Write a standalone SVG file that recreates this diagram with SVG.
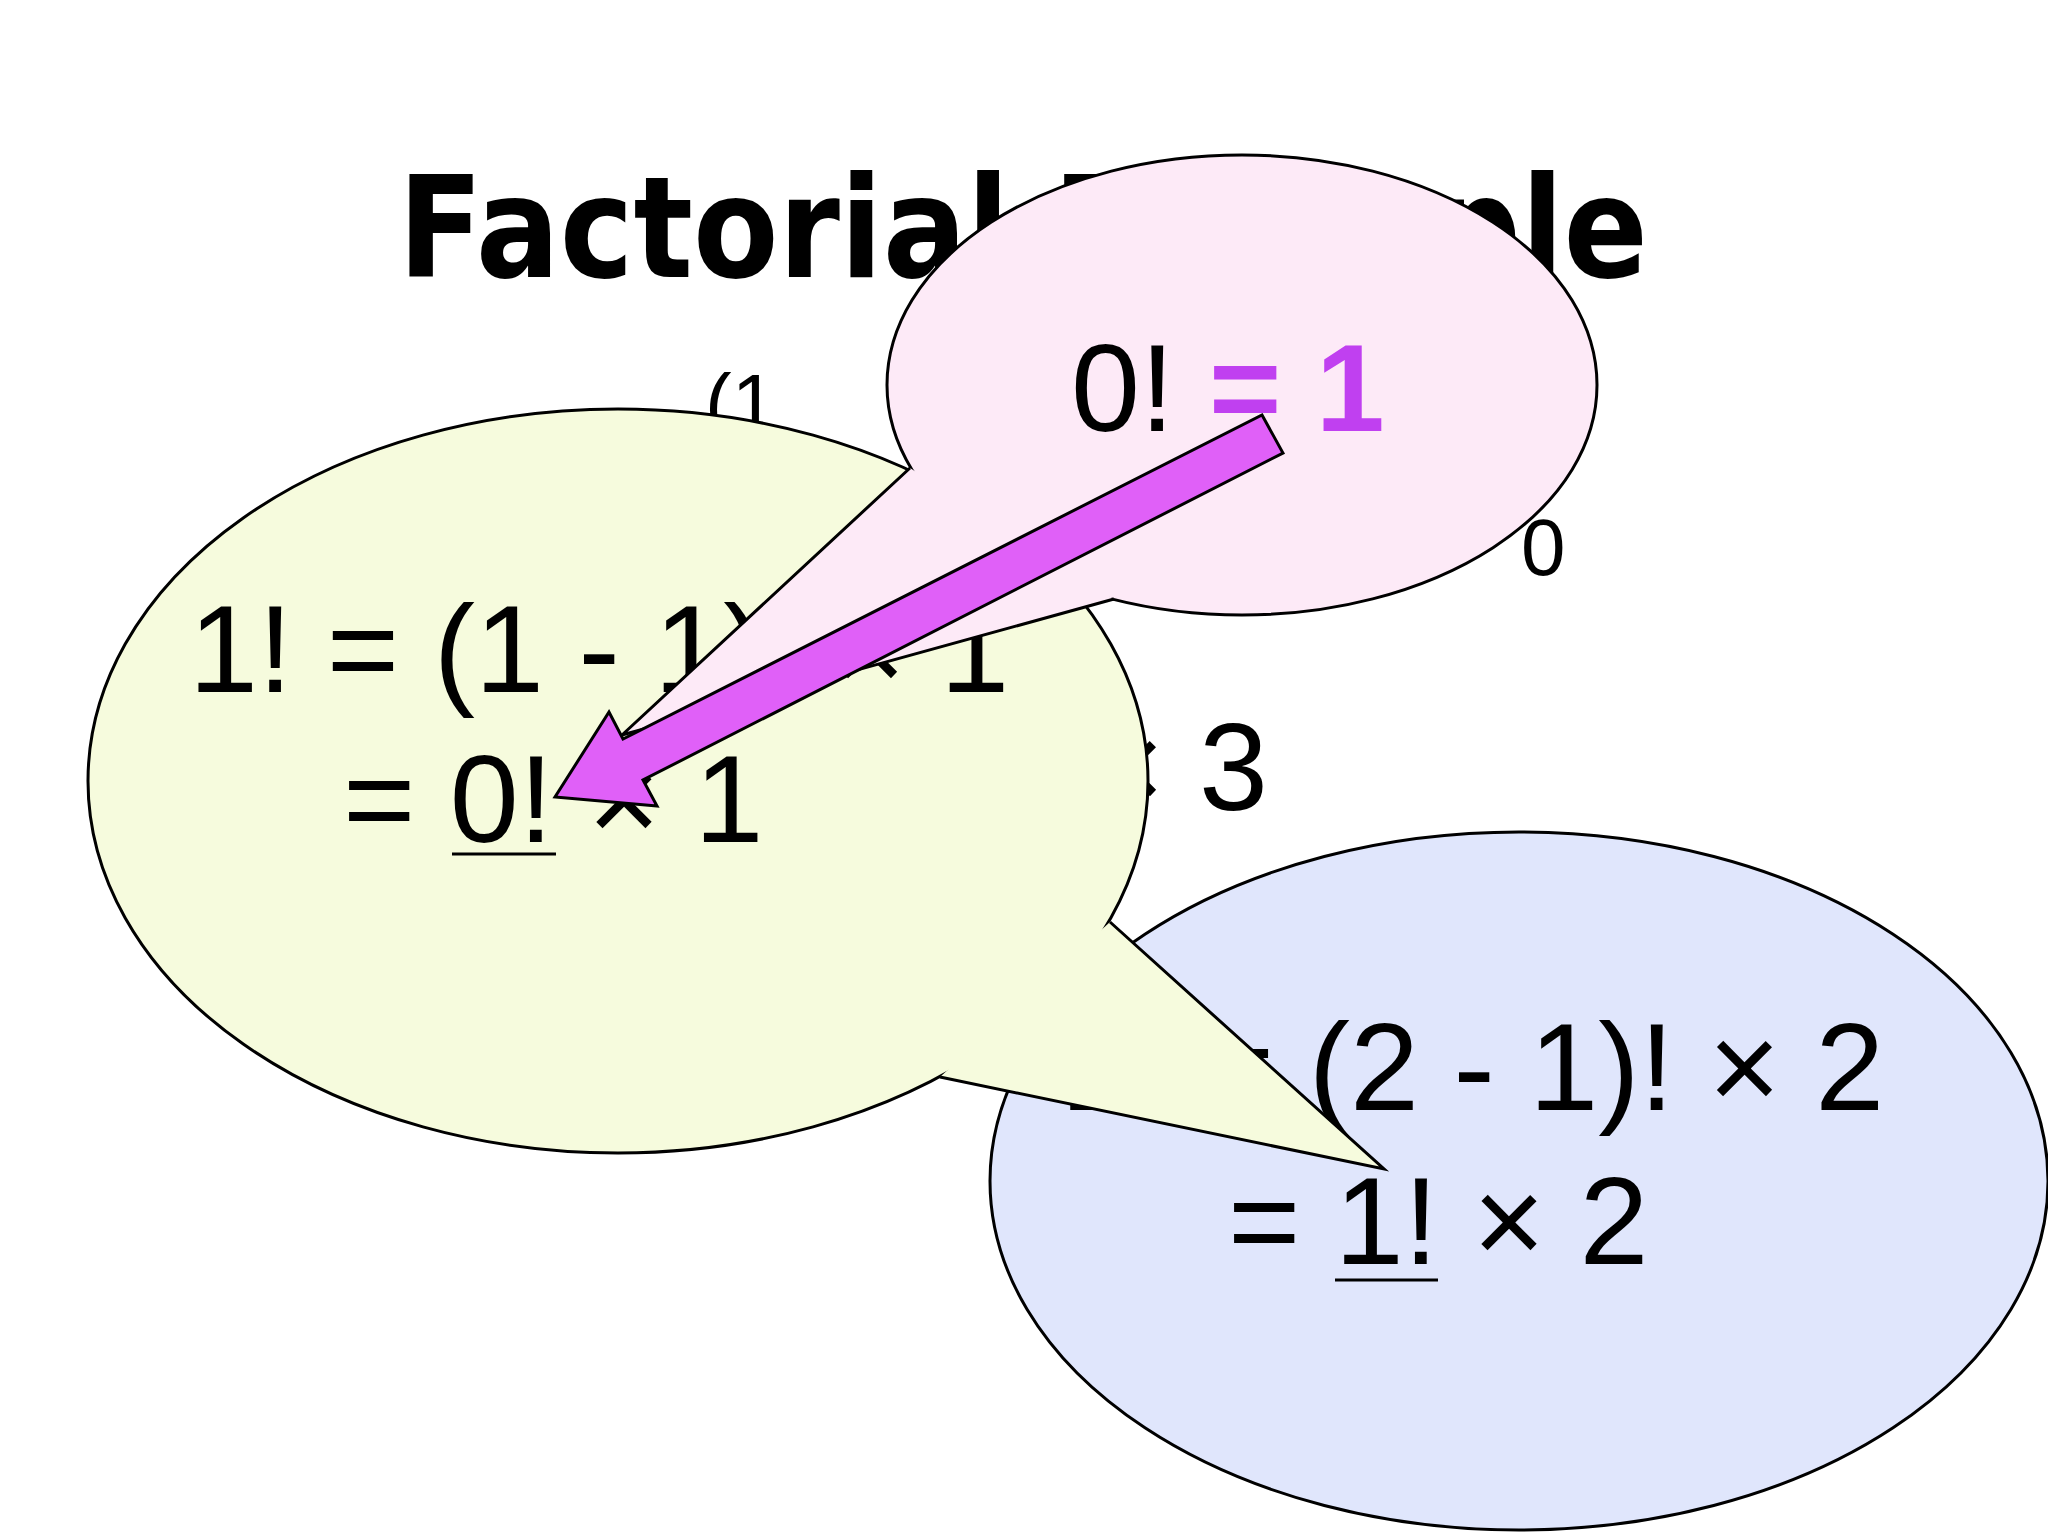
<svg xmlns="http://www.w3.org/2000/svg" width="2048" height="1536" viewBox="0 0 2048 1536">
<style>
.t{font-family:"Liberation Sans",Arial,sans-serif;font-size:124px;fill:#000}
.s{stroke:#000;stroke-width:3}
</style>
<rect width="2048" height="1536" fill="#fff"/>
<text x="398" y="277" font-family="'DejaVu Sans',sans-serif" font-weight="bold" font-size="140" textLength="1250" lengthAdjust="spacingAndGlyphs">Factorial Example</text>
<text class="t" x="705" y="430" style="font-size:80px">(1</text>
<text class="t" x="1521" y="575" style="font-size:80px">0</text>
<text class="t" x="1268" y="810" text-anchor="end">× 3</text>
<g id="blue">
<ellipse class="s" cx="1519" cy="1181" rx="529" ry="349" fill="#e0e6fc"/>
<text class="t" x="1064" y="1110">2! = (2 - 1)! × 2</text>
<text class="t" x="1228" y="1264">= 1! × 2</text>
<line x1="1335" y1="1280" x2="1438" y2="1280" class="s"/>
</g>
<g id="yellow">
<ellipse class="s" cx="618" cy="781" rx="530" ry="372" fill="#f6fbdd"/>
<path class="s" d="M1110 922 L1384 1169 L940 1077" fill="#f6fbdd"/>
<text class="t" x="189" y="692">1! = (1 - 1)! × 1</text>
<text class="t" x="343" y="842">= 0! × 1</text>
<line x1="452" y1="854" x2="556" y2="854" class="s"/>
</g>
<g id="pink">
<ellipse class="s" cx="1242" cy="385" rx="355" ry="230" fill="#fdeaf7"/>
<path class="s" d="M910 468 L622 735 L1114 599" fill="#fdeaf7"/>
<text class="t" x="1071" y="431">0! <tspan fill="#c040f0" font-weight="bold">= 1</tspan></text>
</g>
<g id="connectors">
<polygon class="s" points="1262,415 1283,453 643,780 657,806 555,797 609,712 623,739" fill="#e060f8"/>
</g>
</svg>
